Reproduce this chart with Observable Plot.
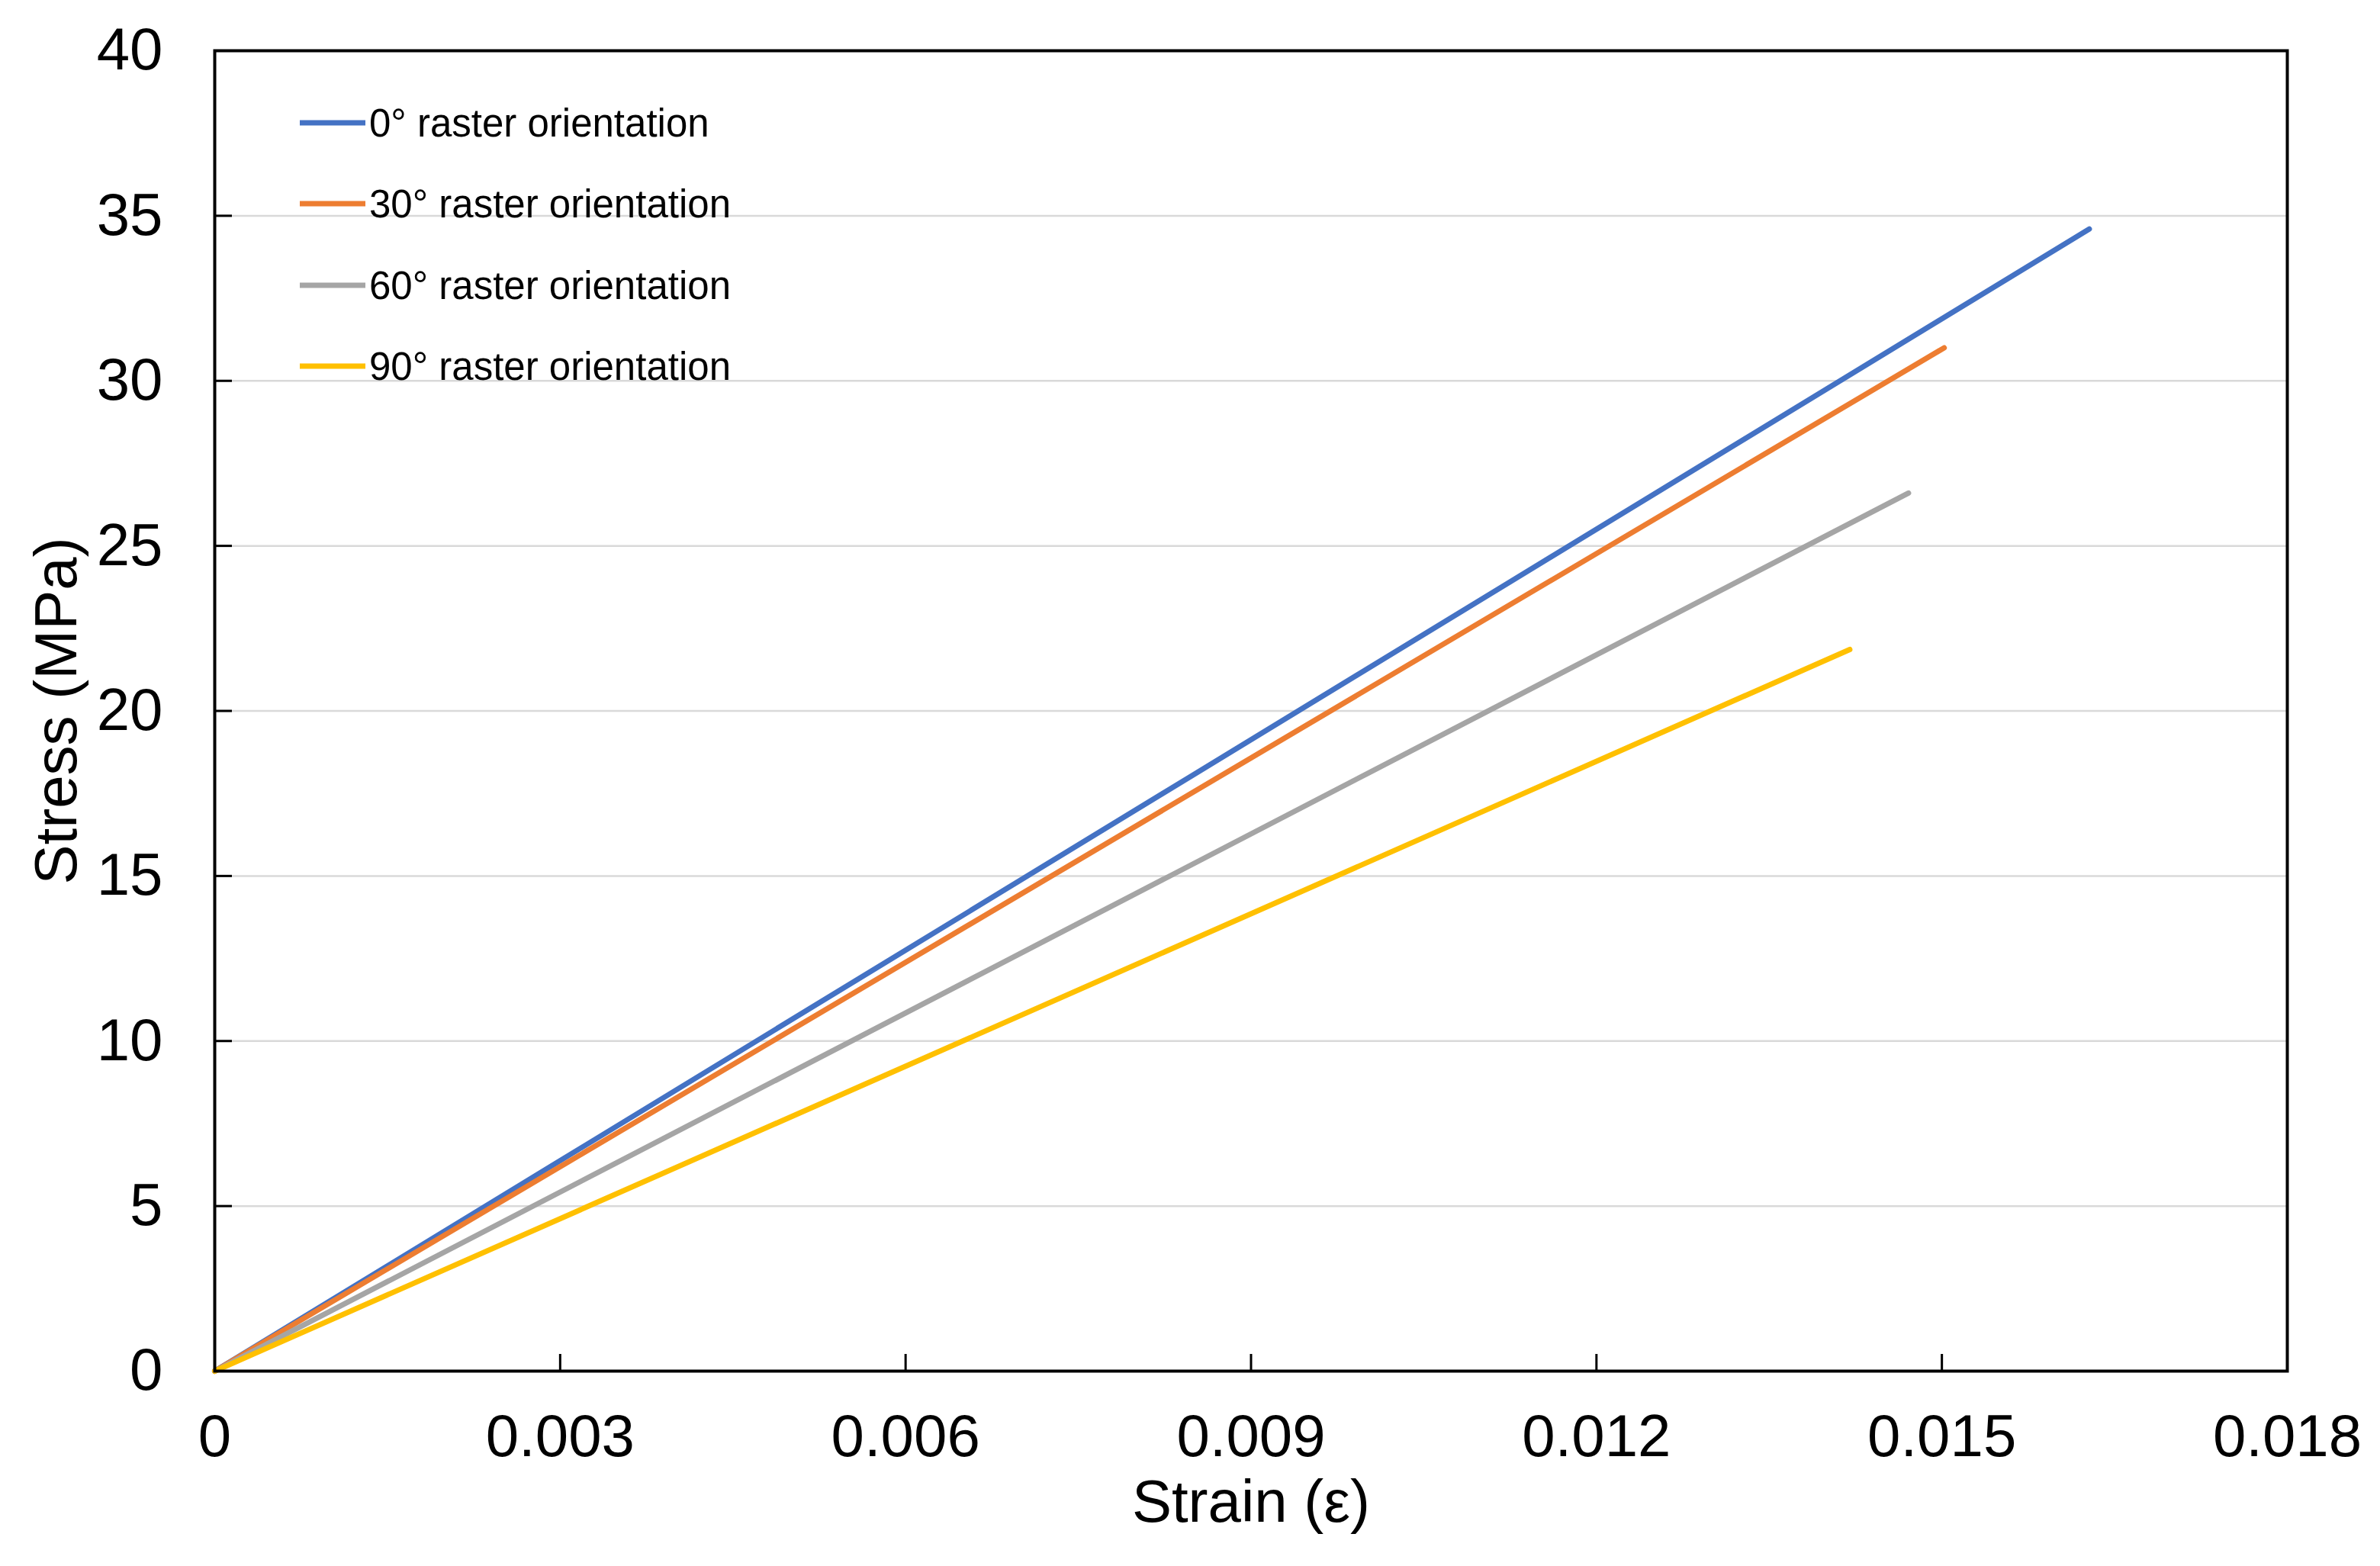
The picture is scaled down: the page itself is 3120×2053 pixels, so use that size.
<!DOCTYPE html>
<html>
<head>
<meta charset="utf-8">
<script src="https://cdn.jsdelivr.net/npm/d3@7"></script>
<script src="https://cdn.jsdelivr.net/npm/@observablehq/plot@0.6"></script>
<style>
  html, body { margin: 0; padding: 0; background: #ffffff; }
  #chart svg { display: block; }
</style>
</head>
<body>
<div id="chart"></div>
<script>
// ---- data ----
const seriesNames = ["0° raster orientation", "30° raster orientation", "60° raster orientation", "90° raster orientation"];
const seriesColors = ["#4472C4", "#ED7D31", "#A5A5A5", "#FFC000"];
const strain0 = [0, 0.01628];
const stress0 = [0, 34.6];
const strain30 = [0, 0.01502];
const stress30 = [0, 31.0];
const strain60 = [0, 0.01471];
const stress60 = [0, 26.6];
const strain90 = [0, 0.01420];
const stress90 = [0, 21.86];
const xTicks = [0, 0.003, 0.006, 0.009, 0.012, 0.015, 0.018];
const xTickLabels = ["0", "0.003", "0.006", "0.009", "0.012", "0.015", "0.018"];
const yTicks = [0, 5, 10, 15, 20, 25, 30, 35, 40];
const xTitle = "Strain (ε)";
const yTitle = "Stress (MPa)";

const strains = [strain0, strain30, strain60, strain90];
const stresses = [stress0, stress30, stress60, stress90];
const rows = [];
seriesNames.forEach((name, i) => {
  strains[i].forEach((s, j) => rows.push({series: name, strain: s, stress: stresses[i][j]}));
});

// ---- layout ----
const W = 3120, H = 2053;
const mL = 281, mR = 122, mT = 66, mB = 256;
const plotW = W - mL - mR, plotH = H - mT - mB;
const font = "'Liberation Sans', Arial, Helvetica, sans-serif";

const svg = Plot.plot({
  width: W,
  height: H,
  marginLeft: mL,
  marginRight: mR,
  marginTop: mT,
  marginBottom: mB,
  style: {fontFamily: font, background: "#ffffff", color: "#000000"},
  x: {domain: [0, 0.018], ticks: xTicks},
  y: {domain: [0, 40], ticks: yTicks},
  color: {domain: seriesNames, range: seriesColors},
  marks: [
    Plot.gridY(yTicks.filter(d => d > 0 && d < 40), {stroke: "#d9d9d9", strokeOpacity: 1, strokeWidth: 2.5}),
    Plot.tickY(yTicks.filter(d => d > 0 && d < 40), {y: d => d, stroke: "#000", strokeWidth: 3, insetRight: plotW - 23}),
    Plot.tickX(xTicks.filter(d => d > 0 && d < 0.018), {x: d => d, stroke: "#000", strokeWidth: 3, insetTop: plotH - 22}),
    Plot.line(rows, {x: "strain", y: "stress", stroke: "series", z: "series", strokeWidth: 7, strokeLinecap: "round"}),
    Plot.frame({stroke: "#000", strokeWidth: 4}),
    Plot.axisX(xTicks, {tickSize: 0, tickPadding: 56, fontSize: 78, tickFormat: (d, i) => xTickLabels[i], label: null}),
    Plot.axisY(yTicks, {tickSize: 0, tickPadding: 68, fontSize: 78, label: null}),
    Plot.text([xTitle], {frameAnchor: "bottom", dy: 173, fontSize: 78, lineAnchor: "middle", text: d => d, fill: "#000"}),
    Plot.text([yTitle], {frameAnchor: "left", dx: -206, rotate: -90, fontSize: 78, textAnchor: "middle", lineAnchor: "middle", text: d => d, fill: "#000"})
  ]
});

// ---- legend inside plot, top-left ----
const leg = d3.select(svg).append("g").attr("class", "legend").attr("text-anchor", "start");
const legY = [161, 267, 374, 480];
seriesNames.forEach((name, i) => {
  leg.append("line")
    .attr("x1", 393).attr("x2", 479)
    .attr("y1", legY[i]).attr("y2", legY[i])
    .attr("stroke", seriesColors[i]).attr("stroke-width", 7);
  leg.append("text")
    .attr("x", 484).attr("y", legY[i])
    .attr("dy", "0.36em")
    .attr("text-anchor", "start")
    .attr("font-family", font)
    .attr("font-size", 51)
    .attr("fill", "#000")
    .text(name);
});

document.getElementById("chart").appendChild(svg);
</script>
</body>
</html>
